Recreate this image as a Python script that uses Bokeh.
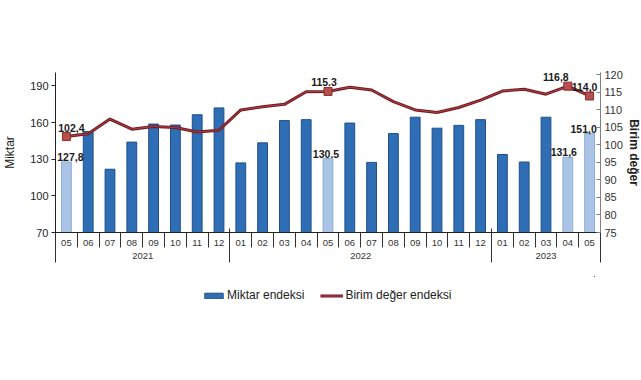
from bokeh.plotting import figure
from bokeh.layouts import column
from bokeh.models import (ColumnDataSource, Range1d, LinearAxis, FixedTicker,
                          Legend, LegendItem)
from bokeh.embed import file_html
from bokeh.resources import INLINE
from bokeh.core.properties import value

# ---- data ----
months = ["05", "06", "07", "08", "09", "10", "11", "12",
          "01", "02", "03", "04", "05", "06", "07", "08", "09", "10", "11", "12",
          "01", "02", "03", "04", "05"]
years = ["2021", "2022", "2023"]
year_counts = [8, 12, 5]
miktar = [127.8, 152.6, 121.8, 144.0, 158.8, 158.0, 166.4, 172.0,
          127.0, 143.4, 161.6, 162.4, 130.5, 159.6, 127.4, 151.0, 164.4, 155.4, 157.7, 162.4,
          133.9, 127.7, 164.4, 131.6, 151.0]
birim = [102.4, 103.2, 107.4, 104.5, 105.3, 105.0, 103.7, 104.2,
         110.0, 110.9, 111.6, 115.2, 115.3, 116.5, 115.7, 112.4, 110.0, 109.3, 110.7, 112.8,
         115.4, 115.9, 114.5, 116.8, 114.0]
highlight = [0, 12, 23, 24]
miktar_labels = ["127,8", "130.5", "131,6", "151,0"]
birim_labels = ["102,4", "115.3", "116,8", "114,0"]
left_ticks = [70, 100, 130, 160, 190]
right_ticks = [75, 80, 85, 90, 95, 100, 105, 110, 115, 120]

FONT = value("Liberation Sans")
n = len(months)
xs = list(range(n))

dark_fill, dark_line = "#2F6DB5", "#1E4F8C"
light_fill, light_line = "#A9C4E6", "#90AED6"
line_dark, line_light = "#74191E", "#A9444A"
bar_src = ColumnDataSource(dict(
    x=xs, top=miktar,
    fill=[light_fill if i in highlight else dark_fill for i in xs],
    line=[light_line if i in highlight else dark_line for i in xs],
))

p = figure(frame_width=545, frame_height=160, x_range=Range1d(-0.5, n - 0.5),
           y_range=Range1d(70, 201), output_backend="svg", toolbar_location=None,
           min_border_left=52, min_border_right=40, min_border_top=72,
           min_border_bottom=44)
p.extra_y_ranges = {"birim": Range1d(75, 120.7)}
p.outline_line_color = None
p.xgrid.visible = False
p.ygrid.visible = False
p.background_fill_color = "white"

bars = p.vbar(x="x", top="top", bottom=70, width=0.45, source=bar_src,
              fill_color="fill", line_color="line", line_width=1)

p.line(xs, birim, y_range_name="birim", line_color=line_dark, line_width=3.0)
p.line(xs, birim, y_range_name="birim", line_color=line_light, line_width=1.0)
p.scatter(highlight, [birim[i] for i in highlight], y_range_name="birim", marker="square",
          size=8, fill_color="#B5504F", line_color="#8A2A2A")

# data labels
lab_dx = [4, -2, -4, -6]
p.text(x=highlight, y=[miktar[i] for i in highlight], text=miktar_labels,
       x_offset=lab_dx, y_offset=-1, text_align="center", text_baseline="bottom",
       text_font=FONT, text_font_style="bold", text_font_size="10.5px", text_color="#1a1a1a")
lab_dx2 = [5, -4, -12, -5]
p.text(x=highlight, y=[birim[i] for i in highlight], text=birim_labels,
       y_range_name="birim", x_offset=lab_dx2, y_offset=-5, text_align="center",
       text_baseline="bottom", text_font=FONT, text_font_style="bold",
       text_font_size="10.5px", text_color="#1a1a1a")

# left axis
ly = p.yaxis[0]
ly.ticker = FixedTicker(ticks=left_ticks)
ly.axis_line_color = "#222222"
ly.major_tick_out = 4
ly.major_tick_in = 0
ly.minor_tick_line_color = None
ly.major_tick_line_color = "#222222"
ly.major_label_text_font = "Liberation Sans"
ly.major_label_text_font_size = "11px"
ly.major_label_text_color = "#222222"
ly.major_label_standoff = 3
ly.axis_label = "Miktar"
ly.axis_label_text_font = "Liberation Sans"
ly.axis_label_text_font_size = "12px"
ly.axis_label_text_font_style = "normal"
ly.axis_label_text_color = "#222222"
ly.axis_label_standoff = 10

# right axis
ry = LinearAxis(y_range_name="birim", ticker=FixedTicker(ticks=right_ticks))
ry.axis_line_color = "#808080"
ry.major_tick_in = 4
ry.major_tick_out = 0
ry.major_tick_line_color = "#808080"
ry.minor_tick_line_color = None
ry.major_label_text_font = "Liberation Sans"
ry.major_label_text_font_size = "11px"
ry.major_label_text_color = "#333333"
ry.major_label_standoff = 4
ry.axis_label = "Birim değer"
ry.axis_label_text_font = "Liberation Sans"
ry.axis_label_text_font_size = "12px"
ry.axis_label_text_font_style = "bold"
ry.axis_label_text_color = "#222222"
ry.axis_label_standoff = 1
p.add_layout(ry, "right")

# bottom axis: months with separators
ax = p.xaxis[0]
ax.ticker = FixedTicker(ticks=xs, minor_ticks=[i - 0.5 for i in range(n + 1)])
ax.major_label_overrides = {i: m for i, m in enumerate(months)}
ax.major_tick_line_color = None
ax.major_tick_out = 0
ax.major_tick_in = 0
ax.minor_tick_out = 15
ax.minor_tick_in = 0
ax.minor_tick_line_color = "#333333"
ax.axis_line_color = "#222222"
ax.major_label_standoff = -8
ax.major_label_text_font = "Liberation Sans"
ax.major_label_text_font_size = "9.5px"
ax.major_label_text_color = "#333333"

# year axis
starts = [sum(year_counts[:k]) for k in range(len(year_counts))]
centers = [s + (c - 1) / 2 for s, c in zip(starts, year_counts)]
bounds = [s - 0.5 for s in starts] + [n - 0.5]
yax = LinearAxis(ticker=FixedTicker(ticks=centers, minor_ticks=bounds))
yax.major_label_overrides = {c: y for c, y in zip(centers, years)}
yax.axis_line_color = None
yax.major_tick_line_color = None
yax.major_tick_out = 0
yax.major_tick_in = 0
yax.minor_tick_in = 20
yax.minor_tick_out = 14
yax.minor_tick_line_color = "#333333"
yax.major_label_standoff = -10
yax.major_label_text_font = "Liberation Sans"
yax.major_label_text_font_size = "9.5px"
yax.major_label_text_color = "#333333"
p.add_layout(yax, "below")

# legend strip: a small figure whose (off-range) renderers feed the legend
lg = figure(width=637, height=36, x_range=Range1d(-20, -19), y_range=Range1d(0, 1),
            output_backend="svg", toolbar_location=None, min_border=0)
lg.outline_line_color = None
lg.xaxis.visible = False
lg.yaxis.visible = False
lg.xgrid.visible = False
lg.ygrid.visible = False
lr_bar = lg.vbar(x=xs, top=miktar, bottom=70, width=0.45,
                 fill_color=dark_fill, line_color=dark_line)
lr_l1 = lg.line(xs, birim, line_color=line_dark, line_width=3.0)
lr_l2 = lg.line(xs, birim, line_color=line_light, line_width=1.0)
legend = Legend(items=[LegendItem(label="Miktar endeksi", renderers=[lr_bar]),
                       LegendItem(label="Birim değer endeksi", renderers=[lr_l1, lr_l2])],
                orientation="horizontal", location=(147, 10),
                label_text_font="Liberation Sans", label_text_font_size="12px",
                label_text_color="#222222", glyph_width=23, glyph_height=7,
                spacing=16, label_standoff=2, border_line_color=None,
                background_fill_alpha=0, padding=4, margin=0)
lg.add_layout(legend, "center")

layout = column(p, lg, spacing=0)
open("out.html", "w").write(file_html(layout, INLINE))
